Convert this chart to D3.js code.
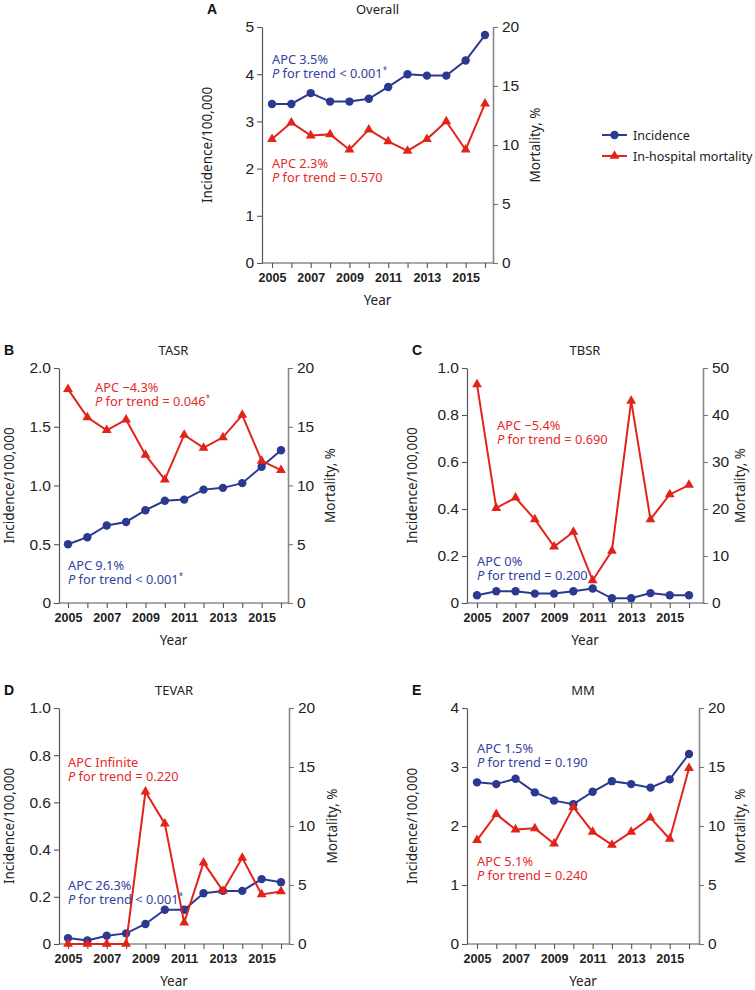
<!DOCTYPE html>
<html>
<head>
<meta charset="utf-8">
<script src="https://cdn.jsdelivr.net/npm/d3@7"></script>
<style>
  html, body { margin: 0; padding: 0; background: #ffffff; }
  svg { display: block; }
</style>
</head>
<body>
<div id="chart"></div>
<script>
// ---------------- DATA ----------------
const years = [2005, 2006, 2007, 2008, 2009, 2010, 2011, 2012, 2013, 2014, 2015, 2016];
const xTickLabels = ["2005", "2007", "2009", "2011", "2013", "2015"];

const overallIncidence = [3.37, 3.37, 3.60, 3.42, 3.42, 3.48, 3.73, 4.00, 3.97, 3.97, 4.29, 4.83];
const overallMortality = [10.5, 11.9, 10.8, 10.9, 9.6, 11.3, 10.3, 9.5, 10.5, 12.0, 9.6, 13.5];

const tasrIncidence = [0.50, 0.56, 0.66, 0.69, 0.79, 0.87, 0.88, 0.965, 0.98, 1.02, 1.16, 1.30];
const tasrMortality = [18.2, 15.8, 14.7, 15.6, 12.6, 10.5, 14.3, 13.2, 14.1, 16.0, 12.1, 11.3];

const tbsrIncidence = [0.033, 0.05, 0.05, 0.04, 0.04, 0.05, 0.062, 0.02, 0.02, 0.042, 0.033, 0.033];
const tbsrMortality = [46.5, 20.2, 22.4, 17.8, 12.0, 15.1, 4.8, 11.1, 43.0, 17.8, 23.1, 25.1];

const tevarIncidence = [0.025, 0.015, 0.035, 0.045, 0.085, 0.145, 0.145, 0.215, 0.225, 0.225, 0.275, 0.262];
const tevarMortality = [0, 0, 0, 0, 12.9, 10.2, 1.8, 6.9, 4.5, 7.3, 4.2, 4.45];

const mmIncidence = [2.74, 2.71, 2.80, 2.57, 2.43, 2.37, 2.58, 2.76, 2.71, 2.65, 2.79, 3.22];
const mmMortality = [8.8, 11.0, 9.7, 9.8, 8.5, 11.6, 9.5, 8.4, 9.5, 10.7, 8.9, 14.9];

const incTicksA = [0, 1, 2, 3, 4, 5];
const incTicksB = [0, 0.5, 1.0, 1.5, 2.0];
const incTicksC = [0, 0.2, 0.4, 0.6, 0.8, 1.0];
const incTicksD = [0, 0.2, 0.4, 0.6, 0.8, 1.0];
const incTicksE = [0, 1, 2, 3, 4];
const mortTicks20 = [0, 5, 10, 15, 20];
const mortTicks50 = [0, 10, 20, 30, 40, 50];

const legendLabels = ["Incidence", "In-hospital mortality"];

// ---------------- STYLE / LAYOUT ----------------
const BLUE = "#2b3990", RED = "#e2231a";
const BLUE_TXT = "#34429e", RED_TXT = "#e52a2a";
const TICK_FONT = "'Liberation Sans', Arial, sans-serif";
const TEXT_FONT = "'Noto Sans', 'Open Sans', sans-serif";

const panels = [
  { letter: "A", title: "Overall", inc: overallIncidence, mort: overallMortality,
    incMax: 5, incTicks: incTicksA, incFmt: d => String(d), mortMax: 20, mortTicks: mortTicks20,
    box: { l: 262, r: 493, t: 27, b: 263, x0: 272, x1: 485 }, lLab: 50, rLab: 47,
    notes: [
      { color: BLUE_TXT, x: 272, y: 64, apc: "APC 3.5%", p: "for trend < 0.001", star: true },
      { color: RED_TXT, x: 272, y: 168, apc: "APC 2.3%", p: "for trend = 0.570", star: false }
    ] },
  { letter: "B", title: "TASR", inc: tasrIncidence, mort: tasrMortality,
    incMax: 2, incTicks: incTicksB, incFmt: d => d === 0 ? "0" : d.toFixed(1), mortMax: 20, mortTicks: mortTicks20,
    box: { l: 59, r: 288, t: 368, b: 603, x0: 68, x1: 281 }, lLab: 45, rLab: 47,
    notes: [
      { color: RED_TXT, x: 95, y: 392, apc: "APC \u22124.3%", p: "for trend = 0.046", star: true },
      { color: BLUE_TXT, x: 68, y: 570, apc: "APC 9.1%", p: "for trend < 0.001", star: true }
    ] },
  { letter: "C", title: "TBSR", inc: tbsrIncidence, mort: tbsrMortality,
    incMax: 1, incTicks: incTicksC, incFmt: d => d === 0 ? "0" : d.toFixed(1), mortMax: 50, mortTicks: mortTicks50,
    box: { l: 467, r: 703, t: 368, b: 603, x0: 477, x1: 689 }, lLab: 50, rLab: 42,
    notes: [
      { color: RED_TXT, x: 497, y: 430, apc: "APC \u22125.4%", p: "for trend = 0.690", star: false },
      { color: BLUE_TXT, x: 477, y: 566, apc: "APC 0%", p: "for trend = 0.200", star: false }
    ] },
  { letter: "D", title: "TEVAR", inc: tevarIncidence, mort: tevarMortality,
    incMax: 1, incTicks: incTicksD, incFmt: d => d === 0 ? "0" : d.toFixed(1), mortMax: 20, mortTicks: mortTicks20,
    box: { l: 59, r: 289, t: 708, b: 944, x0: 68, x1: 281 }, lLab: 45, rLab: 48,
    notes: [
      { color: RED_TXT, x: 68, y: 767, apc: "APC Infinite", p: "for trend = 0.220", star: false },
      { color: BLUE_TXT, x: 68, y: 890, apc: "APC 26.3%", p: "for trend < 0.001", star: true }
    ] },
  { letter: "E", title: "MM", inc: mmIncidence, mort: mmMortality,
    incMax: 4, incTicks: incTicksE, incFmt: d => String(d), mortMax: 20, mortTicks: mortTicks20,
    box: { l: 467, r: 699, t: 708, b: 944, x0: 477, x1: 689 }, lLab: 50, rLab: 46,
    notes: [
      { color: BLUE_TXT, x: 477, y: 753, apc: "APC 1.5%", p: "for trend = 0.190", star: false },
      { color: RED_TXT, x: 477, y: 866, apc: "APC 5.1%", p: "for trend = 0.240", star: false }
    ] }
];

// ---------------- DRAW ----------------
const svg = d3.select("#chart").append("svg")
  .attr("width", 755).attr("height", 990)
  .attr("viewBox", "0 0 755 990");
svg.append("rect").attr("width", 755).attr("height", 990).attr("fill", "#fff");

const triangle = d3.symbol().type(d3.symbolTriangle).size(42);

panels.forEach(p => {
  const B = p.box;
  const g = svg.append("g").attr("class", "panel panel-" + p.letter);
  const x = d3.scaleLinear().domain([years[0], years[years.length - 1]]).range([B.x0, B.x1]);
  const yL = d3.scaleLinear().domain([0, p.incMax]).range([B.b, B.t]);
  const yR = d3.scaleLinear().domain([0, p.mortMax]).range([B.b, B.t]);

  // letter + title
  g.append("text").attr("x", B.l - 55).attr("y", B.t - 13)
    .attr("font-family", "'Liberation Sans', Arial, sans-serif").attr("font-weight", "bold")
    .attr("font-size", 14).attr("fill", "#111").text(p.letter);
  g.append("text").attr("x", (B.l + B.r) / 2).attr("y", B.t - 13.5)
    .attr("text-anchor", "middle").attr("font-family", TEXT_FONT)
    .attr("font-size", 13).attr("fill", "#222").text(p.title);

  // left axis
  const la = g.append("g").attr("transform", `translate(${B.l},0)`)
    .call(d3.axisLeft(yL).tickValues(p.incTicks).tickFormat(p.incFmt).tickSize(5).tickSizeOuter(0));
  la.select(".domain").attr("stroke", "#555").attr("stroke-width", 1.2);
  la.selectAll(".tick line").attr("stroke", "#555").attr("stroke-width", 1.1);
  la.selectAll(".tick text").attr("font-family", TICK_FONT).attr("font-size", 15.5).attr("fill", "#222").attr("x", -8);

  // right axis
  const ra = g.append("g").attr("transform", `translate(${B.r},0)`)
    .call(d3.axisRight(yR).tickValues(p.mortTicks).tickSize(5).tickSizeOuter(0));
  ra.select(".domain").attr("stroke", "#888").attr("stroke-width", 1.6);
  ra.selectAll(".tick line").attr("stroke", "#777").attr("stroke-width", 1.1);
  ra.selectAll(".tick text").attr("font-family", TICK_FONT).attr("font-size", 15.5).attr("fill", "#222").attr("x", 9);

  // bottom axis
  const ba = g.append("g").attr("transform", `translate(0,${B.b})`)
    .call(d3.axisBottom(x).tickValues(years)
      .tickFormat(d => xTickLabels.includes(String(d)) ? String(d) : "")
      .tickSize(5).tickSizeOuter(0));
  ba.select(".domain").remove();
  ba.selectAll(".tick line").attr("stroke", "#555").attr("stroke-width", 1.1);
  ba.selectAll(".tick text").attr("font-family", TICK_FONT).attr("font-size", 12.5)
    .attr("font-weight", "bold").attr("fill", "#222").attr("y", 10);
  g.append("line").attr("x1", B.l).attr("x2", B.r).attr("y1", B.b).attr("y2", B.b)
    .attr("stroke", "#555").attr("stroke-width", 1.2);

  // axis titles
  g.append("text").attr("x", (B.l + B.r) / 2).attr("y", B.b + 42)
    .attr("text-anchor", "middle").attr("font-family", TEXT_FONT).attr("font-size", 13.5)
    .attr("fill", "#222").text("Year");
  g.append("text")
    .attr("transform", `translate(${B.l - p.lLab},${(B.t + B.b) / 2}) rotate(-90)`)
    .attr("text-anchor", "middle").attr("font-family", TEXT_FONT).attr("font-size", 13.5)
    .attr("fill", "#222").text("Incidence/100,000");
  g.append("text")
    .attr("transform", `translate(${B.r + p.rLab},${(B.t + B.b) / 2}) rotate(-90)`)
    .attr("text-anchor", "middle").attr("font-family", TEXT_FONT).attr("font-size", 13.5)
    .attr("fill", "#222").text("Mortality, %");

  // incidence line (blue)
  const incLine = d3.line().x((d, i) => x(years[i])).y(d => yL(d));
  g.append("path").datum(p.inc).attr("d", incLine)
    .attr("fill", "none").attr("stroke", BLUE).attr("stroke-width", 2);
  g.selectAll("circle.inc").data(p.inc).enter().append("circle")
    .attr("class", "inc").attr("cx", (d, i) => x(years[i])).attr("cy", d => yL(d))
    .attr("r", 4.2).attr("fill", BLUE);

  // mortality line (red)
  const mortLine = d3.line().x((d, i) => x(years[i])).y(d => yR(d));
  g.append("path").datum(p.mort).attr("d", mortLine)
    .attr("fill", "none").attr("stroke", RED).attr("stroke-width", 2);
  g.selectAll("path.mort").data(p.mort).enter().append("path")
    .attr("class", "mort").attr("d", triangle)
    .attr("transform", (d, i) => `translate(${x(years[i])},${yR(d)})`)
    .attr("fill", RED);

  // annotations (two lines in one text element)
  p.notes.forEach(n => {
    const t = g.append("text").attr("font-family", TEXT_FONT).attr("font-size", 12.8).attr("fill", n.color);
    t.append("tspan").attr("x", n.x).attr("y", n.y).text(n.apc);
    t.append("tspan").attr("x", n.x).attr("y", n.y + 14).attr("font-style", "italic").text("P");
    t.append("tspan").text(" " + n.p);
    if (n.star) t.append("tspan").attr("dy", -5).attr("font-size", 8).text("*");
  });
});

// legend
const leg = svg.append("g").attr("class", "legend");
legendLabels.forEach((lab, i) => {
  const y = 135 + i * 21;
  const col = i === 0 ? BLUE : RED;
  leg.append("line").attr("x1", 602).attr("x2", 627).attr("y1", y).attr("y2", y)
    .attr("stroke", col).attr("stroke-width", 2);
  if (i === 0) leg.append("circle").attr("cx", 614.5).attr("cy", y).attr("r", 4.2).attr("fill", col);
  else leg.append("path").attr("d", triangle).attr("transform", `translate(614.5,${y})`).attr("fill", col);
  leg.append("text").attr("x", 633).attr("y", y + 4.5).attr("font-family", TEXT_FONT)
    .attr("font-size", 12.5).attr("fill", "#222").text(lab);
});
</script>
</body>
</html>
